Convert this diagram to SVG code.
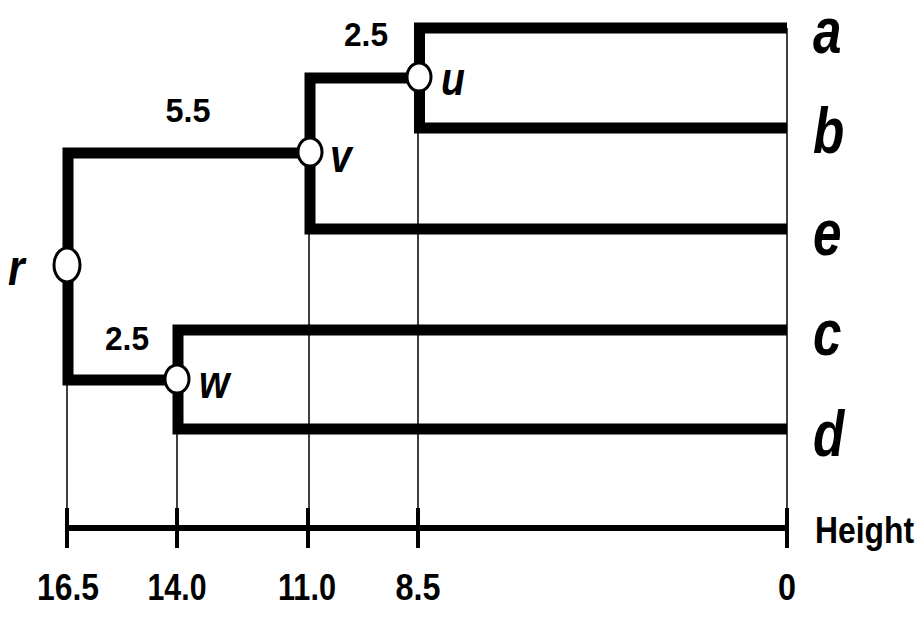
<svg xmlns="http://www.w3.org/2000/svg" width="924" height="620" viewBox="0 0 924 620">
<style>
.br{fill:none;stroke:#000;stroke-width:11;stroke-linejoin:miter;stroke-linecap:butt}
.thin{stroke:#000;stroke-width:1.5}
.axis{stroke:#000;stroke-width:6}
.tick{stroke:#000;stroke-width:4}
.nd{fill:#fff;stroke:#000;stroke-width:3}
.num{font-family:"Liberation Sans",Arial,sans-serif;font-weight:bold;fill:#000}
.lab{font-family:"Liberation Sans",Arial,sans-serif;font-weight:bold;font-style:italic;fill:#000}
</style>
<rect width="924" height="620" fill="#fff"/>
<g id="connectors">
<line class="thin" x1="787" y1="28" x2="787" y2="528"/>
<line class="thin" x1="418" y1="128" x2="418" y2="528"/>
<line class="thin" x1="309" y1="229" x2="309" y2="528"/>
<line class="thin" x1="177" y1="429" x2="177" y2="528"/>
<line class="thin" x1="67" y1="380" x2="67" y2="528"/>
<path class="br" d="M787,28 H419.5 V128 H787"/>
<path class="br" d="M419,78 H310 V229 H787"/>
<path class="br" d="M310,153 H68 V380 H178"/>
<path class="br" d="M787,330 H178 V429 H787"/>
</g>
<g id="axis">
<line class="axis" x1="66" y1="528" x2="787" y2="528"/>
<line class="tick" x1="67" y1="508" x2="67" y2="548"/>
<line class="tick" x1="177" y1="508" x2="177" y2="548"/>
<line class="tick" x1="308" y1="508" x2="308" y2="548"/>
<line class="tick" x1="418" y1="508" x2="418" y2="548"/>
<line class="tick" x1="787" y1="508" x2="787" y2="548"/>
<text class="num" x="68" y="600" font-size="36" text-anchor="middle" textLength="62" lengthAdjust="spacingAndGlyphs">16.5</text>
<text class="num" x="177" y="600" font-size="36" text-anchor="middle" textLength="59" lengthAdjust="spacingAndGlyphs">14.0</text>
<text class="num" x="307" y="600" font-size="36" text-anchor="middle" textLength="58" lengthAdjust="spacingAndGlyphs">11.0</text>
<text class="num" x="418" y="600" font-size="36" text-anchor="middle" textLength="45" lengthAdjust="spacingAndGlyphs">8.5</text>
<text class="num" x="787" y="600" font-size="36" text-anchor="middle" textLength="18" lengthAdjust="spacingAndGlyphs">0</text>
<text class="num" x="815" y="543" font-size="36" textLength="99" lengthAdjust="spacingAndGlyphs">Height</text>
</g>
<g id="node-u">
<ellipse class="nd" cx="419" cy="77" rx="12" ry="14"/>
<text class="lab" transform="translate(441,95) scale(0.85,1)" font-size="46">u</text>
<text class="num" x="366" y="46" font-size="34" text-anchor="middle" textLength="44" lengthAdjust="spacingAndGlyphs">2.5</text>
</g>
<g id="node-v">
<ellipse class="nd" cx="310" cy="152" rx="12" ry="14"/>
<text class="lab" transform="translate(330,172) scale(0.85,1)" font-size="46">v</text>
<text class="num" x="188" y="122" font-size="34" text-anchor="middle" textLength="45" lengthAdjust="spacingAndGlyphs">5.5</text>
</g>
<g id="node-w">
<ellipse class="nd" cx="177" cy="379" rx="12" ry="14"/>
<text class="lab" transform="translate(199,398) scale(0.85,1)" font-size="46">w</text>
<text class="num" x="127" y="350" font-size="34" text-anchor="middle" textLength="44" lengthAdjust="spacingAndGlyphs">2.5</text>
</g>
<g id="node-r">
<ellipse class="nd" cx="67" cy="265" rx="13" ry="17" stroke-width="4"/>
<text class="lab" transform="translate(8,285) scale(0.85,1)" font-size="50">r</text>
</g>
<g id="leaf-a"><text class="lab" transform="translate(813,53) scale(0.8,1)" font-size="64">a</text></g>
<g id="leaf-b"><text class="lab" transform="translate(813,153) scale(0.8,1)" font-size="64">b</text></g>
<g id="leaf-e"><text class="lab" transform="translate(813,255) scale(0.8,1)" font-size="64">e</text></g>
<g id="leaf-c"><text class="lab" transform="translate(813,355) scale(0.8,1)" font-size="64">c</text></g>
<g id="leaf-d"><text class="lab" transform="translate(813,456) scale(0.8,1)" font-size="64">d</text></g>
</svg>
